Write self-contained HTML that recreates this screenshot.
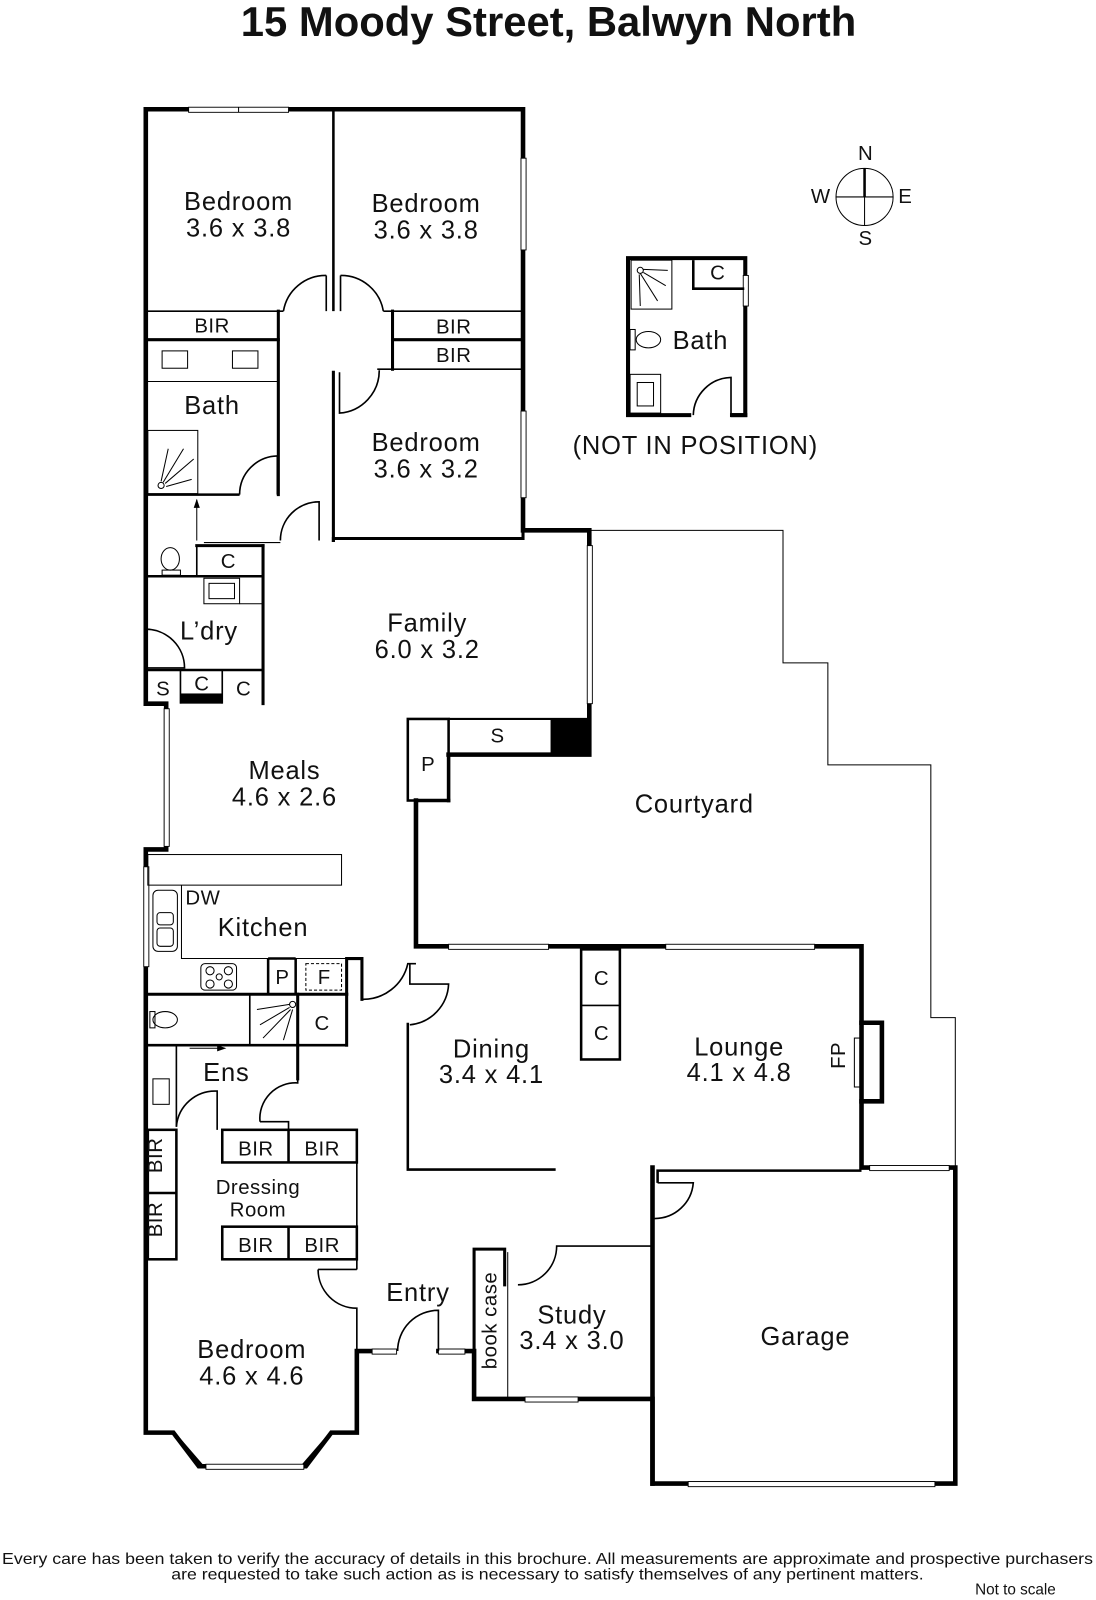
<!DOCTYPE html>
<html><head><meta charset="utf-8"><style>
html,body{margin:0;padding:0;background:#fff}
svg{display:block}
text{font-family:"Liberation Sans",sans-serif;fill:#111}
.t{font-size:25px;text-anchor:middle;letter-spacing:0.8px}
.s{font-size:20px;text-anchor:middle;letter-spacing:0.5px}
.W{stroke:#000;stroke-width:4.5;fill:none;stroke-linecap:square}
.w{stroke:#000;stroke-width:1.6;fill:none}
.h{stroke:#000;stroke-width:1;fill:none}
.win{fill:#fff;stroke:#000;stroke-width:0.9}
</style></head><body>
<svg width="1096" height="1600" viewBox="0 0 1075 1569" xmlns="http://www.w3.org/2000/svg">
<text x="538" y="35" style="font-size:41px;font-weight:bold;text-anchor:middle">15 Moody Street, Balwyn North</text>

<!-- courtyard fence -->
<polyline class="h" points="578,520 768,520 768,650 812,650 812,750 913,750 913,998 937,998 937,1145"/>

<!-- outer walls -->
<polyline class="W" points="327,107 143,107 143,690 163,690 163,833 143,833 143,1405 170,1405 195,1438 300,1438 325,1405 350,1405 350,1325 370,1325"/>
<polyline class="W" points="327,107 513,107 513,520 578,520 578,740 440,740"/>
<polyline class="W" points="430,1325 465,1325 465,1372 640,1372 640,1455 937,1455 937,1145 845,1145 845,928 408,928 408,785"/>
<line class="W" x1="640" y1="1145" x2="640" y2="1455"/>
<line class="w" x1="440" y1="705" x2="578" y2="705" style="stroke-width:2"/>
<rect x="540" y="705" width="38" height="35" fill="#000"/>
<polyline class="W" points="845,1003 865,1003 865,1080 845,1080"/>
<!-- windows -->
<rect class="win" x="185" y="105" width="98" height="5"/><line class="h" x1="234" y1="105" x2="234" y2="110"/>
<rect class="win" x="511" y="155" width="5" height="90"/>
<rect class="win" x="511" y="403" width="5" height="85"/>
<rect class="win" x="576" y="535" width="5" height="155"/>
<rect class="win" x="161" y="695" width="5" height="135"/>
<rect class="win" x="141" y="850" width="5" height="98"/>
<rect class="win" x="440" y="926" width="98" height="5"/>
<rect class="win" x="653" y="926" width="146" height="5"/>
<rect class="win" x="853" y="1143" width="78" height="5"/>
<rect class="win" x="675" y="1453" width="242" height="5"/>
<rect class="win" x="515" y="1370" width="52" height="5"/>
<rect class="win" x="365" y="1323" width="24" height="5"/>
<rect class="win" x="430" y="1323" width="26" height="5"/>
<rect class="win" x="202" y="1436" width="96" height="5"/>
<line class="win" x1="172" y1="1408" x2="197" y2="1437" style="stroke-width:4"/>
<line class="win" x1="323" y1="1408" x2="298" y2="1437" style="stroke-width:4"/>

<!-- top block interior -->
<line class="w" x1="327" y1="107" x2="327" y2="305" style="stroke-width:2.5"/>
<line class="w" x1="320" y1="305" x2="320" y2="270"/><path class="w" d="M320,270 A42,42 0 0 0 278,305"/>
<line class="w" x1="334" y1="305" x2="334" y2="270"/><path class="w" d="M334,270 A42,42 0 0 1 376,305"/>
<line class="w" x1="143" y1="305" x2="278" y2="305"/>
<line class="w" x1="376" y1="305" x2="513" y2="305"/>
<line class="W" x1="273" y1="305" x2="273" y2="485" style="stroke-width:3"/>
<line class="W" x1="143" y1="333" x2="273" y2="333" style="stroke-width:3"/>
<line class="W" x1="385" y1="305" x2="385" y2="362" style="stroke-width:3"/>
<line class="W" x1="385" y1="333" x2="513" y2="333" style="stroke-width:3"/>
<line class="w" x1="370" y1="362" x2="513" y2="362"/>
<path class="w" d="M333,365 L333,405 A42,42 0 0 0 372,363"/>
<line class="W" x1="327" y1="365" x2="327" y2="530" style="stroke-width:3"/>
<polyline class="W" points="327,530 327,528 513,528 513,520" style="stroke-width:3"/>
<rect class="h" x="159" y="344" width="25" height="17"/><rect class="h" x="228" y="344" width="25" height="17"/>
<line class="h" x1="143" y1="374" x2="273" y2="374"/>
<rect class="h" x="145" y="422" width="49" height="62"/>
<g class="h"><circle cx="158" cy="476" r="3"/><line x1="162" y1="474" x2="190" y2="450"/><line x1="163" y1="477" x2="188" y2="470"/><line x1="158" y1="472" x2="165" y2="440"/><line x1="160" y1="473" x2="180" y2="440"/></g>
<polyline class="w" points="143,485 235,485" style="stroke-width:2.5"/>
<path class="w" d="M235,485 A38,38 0 0 1 272,447 L272,485"/>
<line class="h" x1="193" y1="490" x2="193" y2="530"/><polygon points="190,498 196,498 193,489"/>
<path class="w" d="M275,530 A38,38 0 0 1 313,492 L313,530"/>
<!-- toilet / laundry -->
<line class="w" x1="143" y1="565" x2="258" y2="565" style="stroke-width:2.5"/>
<line class="W" x1="258" y1="535" x2="258" y2="690" style="stroke-width:3"/>
<line class="W" x1="193" y1="535" x2="258" y2="535" style="stroke-width:3"/>
<line class="w" x1="193" y1="535" x2="193" y2="565"/>
<line class="h" x1="200" y1="532" x2="275" y2="532"/>
<ellipse class="h" cx="167" cy="548" rx="9" ry="11"/><rect class="h" x="159" y="559" width="18" height="5"/>
<rect class="h" x="200" y="567" width="35" height="25"/><rect class="h" x="205" y="572" width="25" height="15"/><line class="h" x1="235" y1="592" x2="258" y2="592"/>
<path class="w" d="M143,617 A38,38 0 0 1 181,655 L143,655"/>
<polyline class="w" points="143,657 258,657" style="stroke-width:2.5"/>
<line class="w" x1="177" y1="657" x2="177" y2="690"/><line class="w" x1="218" y1="657" x2="218" y2="690"/>
<rect x="177" y="680" width="41" height="10" fill="#000"/>
<!-- family P -->
<rect class="w" x="400" y="705" width="40" height="80" style="stroke-width:2.5"/>
<line class="W" x1="440" y1="740" x2="440" y2="785" style="stroke-width:3.5"/>
<line class="W" x1="408" y1="785" x2="440" y2="785" style="stroke-width:3.5"/>
<!-- kitchen -->
<rect class="h" x="145" y="838" width="190" height="30"/>
<polyline class="h" points="178,868 178,940 340,940"/>
<rect class="h" x="150" y="873" width="24" height="60" rx="5"/><rect class="h" x="154" y="895" width="16" height="12" rx="3"/><rect class="h" x="154" y="910" width="16" height="18" rx="3"/>
<line class="W" x1="143" y1="975" x2="340" y2="975" style="stroke-width:3"/>
<rect class="h" x="197" y="945" width="35" height="26" rx="4"/><g class="h"><circle cx="206" cy="952" r="4"/><circle cx="224" cy="952" r="4"/><circle cx="206" cy="965" r="4"/><circle cx="224" cy="965" r="4"/><circle cx="215" cy="958" r="3"/></g>
<line class="w" x1="263" y1="940" x2="263" y2="975" style="stroke-width:2.5"/><line class="w" x1="290" y1="940" x2="290" y2="975" style="stroke-width:2.5"/><line class="w" x1="263" y1="940" x2="290" y2="940" style="stroke-width:2.5"/>
<rect class="h" x="300" y="945" width="35" height="26" style="stroke-dasharray:3,2"/>
<polyline class="W" points="340,975 340,940 355,940 355,980" style="stroke-width:3"/>
<path class="w" d="M355,980 A45,45 0 0 0 400,945 L408,945"/>
<path class="w" d="M402,945 L402,965 L440,965 A42,42 0 0 1 402,1005"/>
<polyline class="w" points="400,1003 400,1147 545,1147" style="stroke-width:2.5"/>
<!-- ensuite -->
<line class="w" x1="245" y1="975" x2="245" y2="1025"/><line class="W" x1="292" y1="975" x2="292" y2="1025" style="stroke-width:3"/>
<line class="W" x1="340" y1="975" x2="340" y2="1025" style="stroke-width:3"/>
<line class="w" x1="143" y1="1025" x2="340" y2="1025" style="stroke-width:2.5"/>
<ellipse class="h" cx="162" cy="1000" rx="12" ry="8"/><rect class="h" x="147" y="992" width="5" height="16"/>
<g class="h"><circle cx="287" cy="985" r="3"/><line x1="284" y1="988" x2="255" y2="1005"/><line x1="285" y1="990" x2="258" y2="1018"/><line x1="287" y1="990" x2="278" y2="1020"/><line x1="284" y1="985" x2="252" y2="990"/></g>
<line class="h" x1="186" y1="1028" x2="220" y2="1028"/><polygon points="213,1025 222,1028 213,1031"/>
<line class="W" x1="292" y1="1025" x2="292" y2="1058" style="stroke-width:3"/>
<line class="w" x1="173" y1="1025" x2="173" y2="1105"/>
<rect class="h" x="150" y="1058" width="16" height="25"/>
<path class="w" d="M173,1105 A38,38 0 0 1 213,1070 L213,1108"/>
<path class="w" d="M255,1100 A35,35 0 0 1 292,1062 L292,1058"/>
<polyline class="w" points="255,1100 283,1100 283,1108"/>
<!-- BIRs left -->
<rect class="w" x="145" y="1108" width="28" height="127" style="stroke-width:2.5"/>
<line class="w" x1="145" y1="1170" x2="173" y2="1170" style="stroke-width:2.5"/>
<!-- dressing -->
<rect class="w" x="218" y="1108" width="132" height="32" style="stroke-width:2.5"/><line class="w" x1="283" y1="1108" x2="283" y2="1140" style="stroke-width:2.5"/>
<rect class="w" x="218" y="1203" width="132" height="32" style="stroke-width:2.5"/><line class="w" x1="283" y1="1203" x2="283" y2="1235" style="stroke-width:2.5"/>
<line class="w" x1="350" y1="1140" x2="350" y2="1245"/><line class="w" x1="312" y1="1245" x2="350" y2="1245"/>
<path class="w" d="M312,1245 A38,38 0 0 0 350,1283 L350,1325"/>
<path class="w" d="M390,1325 A40,40 0 0 1 430,1285 L430,1325"/>
<!-- study -->
<polyline class="W" points="465,1325 465,1225 495,1225 495,1260" style="stroke-width:3"/>
<line class="h" x1="498" y1="1228" x2="498" y2="1372"/>
<path class="w" d="M508,1260 A38,38 0 0 0 546,1222 L640,1222"/>
<polyline class="w" points="645,1160 645,1148 845,1148" style="stroke-width:2.5"/>
<path class="w" d="M645,1160 L680,1160 A38,38 0 0 1 642,1195"/>
<!-- dining closets -->
<rect class="w" x="570" y="931" width="38" height="108" style="stroke-width:2.5"/><line class="w" x1="570" y1="986" x2="608" y2="986"/>
<rect class="h" x="838" y="1018" width="6" height="48"/>

<!-- outbuilding bath -->
<polyline class="W" points="680,407 731,407 731,253 616,253 616,407 700,407" style="stroke-width:4"/>
<rect fill="#fff" x="678" y="398" width="38" height="12"/>
<line class="W" x1="719" y1="407" x2="731" y2="407" style="stroke-width:4"/>
<path class="w" d="M680,407 A38,38 0 0 1 717,370 L717,407"/>
<rect class="win" x="729" y="270" width="5" height="30"/>
<rect class="h" x="619" y="255" width="40" height="48"/>
<g class="h"><circle cx="628" cy="265" r="3"/><line x1="631" y1="264" x2="655" y2="265"/><line x1="631" y1="267" x2="653" y2="280"/><line x1="628" y1="268" x2="645" y2="295"/><line x1="627" y1="269" x2="628" y2="300"/></g>
<polyline class="w" points="680,255 680,283 730,283" style="stroke-width:2.5"/>
<rect class="h" x="618" y="323" width="5" height="20"/><ellipse class="h" cx="636" cy="333" rx="12" ry="8"/>
<rect class="h" x="618" y="367" width="30" height="38"/><rect class="h" x="625" y="375" width="16" height="23"/>
<text class="t" x="687" y="342">Bath</text>
<text class="t" x="682" y="445">(NOT IN POSITION)</text>
<text class="s" x="704" y="274">C</text>

<!-- compass -->
<circle class="h" cx="848" cy="193" r="28"/>
<line class="h" x1="820" y1="193" x2="876" y2="193"/><line class="h" x1="848" y1="193" x2="848" y2="221"/>
<line stroke="#000" stroke-width="2.5" x1="848" y1="165" x2="848" y2="193"/>
<text class="s" x="849" y="157">N</text><text class="s" x="849" y="240">S</text>
<text class="s" x="805" y="199">W</text><text class="s" x="888" y="199">E</text>

<!-- labels -->
<text class="t" x="234" y="206">Bedroom</text><text class="t" x="234" y="232">3.6 x 3.8</text>
<text class="t" x="418" y="208">Bedroom</text><text class="t" x="418" y="234">3.6 x 3.8</text>
<text class="s" x="208" y="326">BIR</text>
<text class="s" x="445" y="327">BIR</text><text class="s" x="445" y="355">BIR</text>
<text class="t" x="208" y="406">Bath</text>
<text class="t" x="418" y="442">Bedroom</text><text class="t" x="418" y="468">3.6 x 3.2</text>
<text class="s" x="224" y="557">C</text>
<text class="t" x="205" y="627">L’dry</text>
<text class="s" x="160" y="682">S</text><text class="s" x="198" y="677">C</text><text class="s" x="239" y="682">C</text>
<text class="t" x="419" y="619">Family</text><text class="t" x="419" y="645">6.0 x 3.2</text>
<text class="s" x="488" y="728">S</text><text class="s" x="420" y="756">P</text>
<text class="t" x="279" y="764">Meals</text><text class="t" x="279" y="790">4.6 x 2.6</text>
<text class="t" x="681" y="797">Courtyard</text>
<text class="s" x="199" y="887">DW</text>
<text class="t" x="258" y="918">Kitchen</text>
<text class="s" x="277" y="965">P</text><text class="s" x="318" y="965">F</text>
<text class="s" x="316" y="1010">C</text>
<text class="t" x="222" y="1060">Ens</text>
<text class="s" x="251" y="1133">BIR</text><text class="s" x="316" y="1133">BIR</text>
<text class="s" x="251" y="1228">BIR</text><text class="s" x="316" y="1228">BIR</text>
<text class="s" x="166" y="1140" transform="rotate(-90 159 1140)">BIR</text>
<text class="s" x="166" y="1203" transform="rotate(-90 159 1203)">BIR</text>
<text class="s" x="253" y="1171">Dressing</text><text class="s" x="253" y="1193">Room</text>
<text class="t" x="410" y="1276">Entry</text>
<text class="t" x="247" y="1332">Bedroom</text><text class="t" x="247" y="1358">4.6 x 4.6</text>
<text class="s" x="494" y="1302" transform="rotate(-90 487 1302)">book case</text>
<text class="t" x="561" y="1298">Study</text><text class="t" x="561" y="1323">3.4 x 3.0</text>
<text class="t" x="790" y="1319">Garage</text>
<text class="t" x="482" y="1037">Dining</text><text class="t" x="482" y="1062">3.4 x 4.1</text>
<text class="t" x="725" y="1035">Lounge</text><text class="t" x="725" y="1060">4.1 x 4.8</text>
<text class="s" x="836" y="1042" transform="rotate(-90 829 1042)">FP</text>
<text class="s" x="590" y="966">C</text><text class="s" x="590" y="1020">C</text>

<text x="2" y="1534" textLength="1070" lengthAdjust="spacingAndGlyphs" style="font-size:15.5px">Every care has been taken to verify the accuracy of details in this brochure.  All measurements are approximate and prospective purchasers</text>
<text x="168" y="1549" textLength="738" lengthAdjust="spacingAndGlyphs" style="font-size:15.5px">are requested to take such action as is necessary to satisfy themselves of any pertinent matters.</text>
<text x="996" y="1564" style="font-size:15px;text-anchor:middle">Not to scale</text>
</svg>
</body></html>
